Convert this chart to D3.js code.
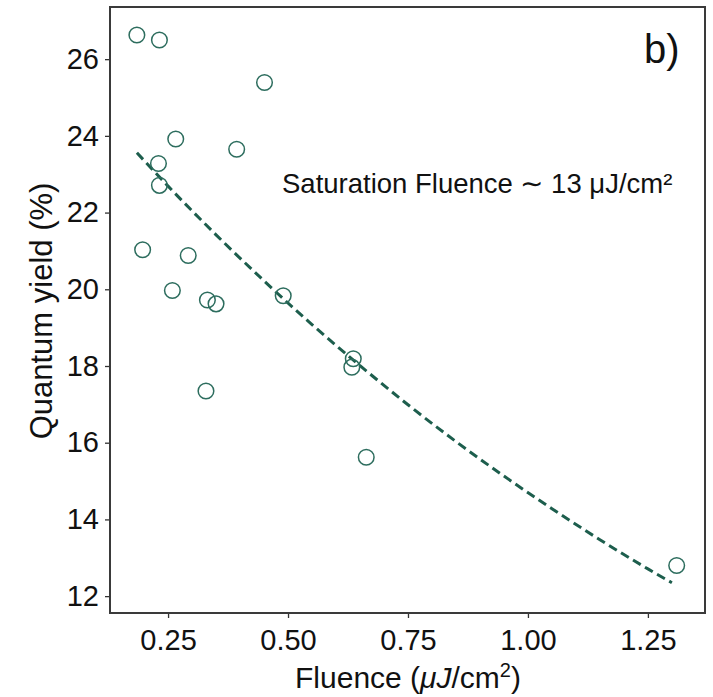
<!DOCTYPE html>
<html>
<head>
<meta charset="utf-8">
<script src="https://cdn.jsdelivr.net/npm/d3@7"></script>
<style>
  html, body { margin: 0; padding: 0; background: #fff; }
  svg { display: block; font-family: "Liberation Sans", Arial, sans-serif; }
</style>
</head>
<body>
<svg id="chart" width="713" height="697"></svg>
<script>
// Measured points
const fluence = [0.185, 0.232, 0.451, 0.266, 0.393, 0.230, 0.232, 0.197, 0.292, 0.259, 0.332, 0.350, 0.490, 0.636, 0.633, 0.329, 0.663, 1.310];
const quantumYield = [26.63, 26.50, 25.39, 23.92, 23.65, 23.28, 22.71, 21.03, 20.88, 19.97, 19.72, 19.62, 19.83, 18.19, 17.97, 17.35, 15.62, 12.80];

// Fit curve
const fitFluence = [0.185, 0.25, 0.35, 0.45, 0.55, 0.65, 0.75, 0.85, 0.95, 1.05, 1.15, 1.25, 1.30];
const fitYield   = [23.56, 22.69, 21.42, 20.22, 19.08, 18.01, 16.99, 16.03, 15.13, 14.28, 13.47, 12.71, 12.35];

const xTicks = [0.25, 0.50, 0.75, 1.00, 1.25];
const yTicks = [12, 14, 16, 18, 20, 22, 24, 26];

const annotation = "Saturation Fluence ∼ 13 μJ/cm²";
const panelLabel = "b)";

const svg = d3.select("#chart");
const L = 110, R = 705, T = 7, B = 613;

const x = d3.scaleLinear().domain([0.129, 1.369]).range([L, R]);
const y = d3.scaleLinear().domain([11.56, 27.36]).range([B, T]);

// Axes
const xAxis = svg.append("g").attr("transform", `translate(0,${B})`)
  .call(d3.axisBottom(x).tickValues(xTicks).tickFormat(d3.format(".2f")).tickSize(5).tickPadding(11));
const yAxis = svg.append("g").attr("transform", `translate(${L},0)`)
  .call(d3.axisLeft(y).tickValues(yTicks).tickFormat(d3.format("d")).tickSize(5).tickPadding(6));

[xAxis, yAxis].forEach(g => {
  g.select(".domain").remove();
  g.selectAll(".tick line").attr("stroke", "#333").attr("stroke-width", 1.3);
  g.selectAll(".tick text").attr("fill", "#111").style("font-size", "29px");
});
xAxis.selectAll(".tick text").attr("dy", "0.71em");

// Frame
svg.append("rect").attr("x", L).attr("y", T).attr("width", R - L).attr("height", B - T)
  .attr("fill", "none").attr("stroke", "#3a3a3a").attr("stroke-width", 2);

// Fit line
const line = d3.line().x((d, i) => x(fitFluence[i])).y(d => y(d)).curve(d3.curveMonotoneX);
svg.append("path").datum(fitYield)
  .attr("d", line)
  .attr("fill", "none")
  .attr("stroke", "#1d5e4d")
  .attr("stroke-width", 3)
  .attr("stroke-dasharray", "9,5");

// Points
svg.append("g").selectAll("circle").data(quantumYield).join("circle")
  .attr("cx", (d, i) => x(fluence[i]))
  .attr("cy", d => y(d))
  .attr("r", 7.8)
  .attr("fill", "none")
  .attr("stroke", "#2d6d5e")
  .attr("stroke-width", 1.5);

// Annotation
svg.append("text").attr("x", 282).attr("y", 193)
  .style("font-size", "27.5px").attr("fill", "#111").text(annotation);

// Panel label
svg.append("text").attr("x", 644).attr("y", 63)
  .style("font-size", "40px").attr("fill", "#111").text(panelLabel);

// Axis labels
svg.append("text")
  .attr("transform", `translate(52,311) rotate(-90)`)
  .attr("text-anchor", "middle")
  .style("font-size", "31px").attr("fill", "#111")
  .text("Quantum yield (%)");

const xl = svg.append("text").attr("x", 408).attr("y", 688)
  .attr("text-anchor", "middle").style("font-size", "30px").attr("fill", "#111");
xl.append("tspan").text("Fluence (");
xl.append("tspan").attr("font-style", "italic").text("μJ");
xl.append("tspan").text("/cm");
xl.append("tspan").attr("baseline-shift", "super").style("font-size", "20px").text("2");
xl.append("tspan").text(")");
</script>
</body>
</html>
